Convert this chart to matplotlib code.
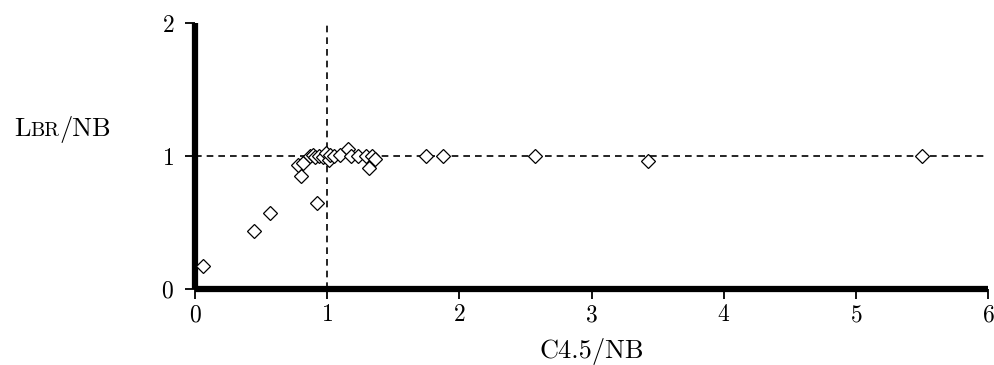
import numpy as np
import matplotlib
matplotlib.use("Agg")
import matplotlib.pyplot as plt
from matplotlib.offsetbox import TextArea, HPacker, AnnotationBbox

plt.rcParams["font.family"] = "serif"
plt.rcParams["font.serif"] = ["cmr10", "DejaVu Serif"]
plt.rcParams["mathtext.fontset"] = "cm"
plt.rcParams["axes.formatter.use_mathtext"] = True

# C4.5/NB (x) against LBR/NB (y)
c45_nb = [0.06, 0.45, 0.57, 0.92, 0.80, 0.78, 0.82,
          0.87, 0.89, 0.91, 0.94, 0.97, 0.99, 1.01, 1.02, 1.05, 1.10,
          1.16, 1.18, 1.23, 1.29, 1.32, 1.34, 1.36,
          1.75, 1.88, 2.57, 3.43, 5.50]
lbr_nb = [0.17, 0.44, 0.57, 0.65, 0.85, 0.93, 0.95,
          1.00, 1.01, 0.99, 1.00, 0.99, 1.02, 0.97, 1.01, 1.00, 1.01,
          1.05, 1.00, 1.00, 1.00, 0.91, 1.00, 0.98,
          1.00, 1.00, 1.00, 0.96, 1.00]

x_ticks = [0, 1, 2, 3, 4, 5, 6]
y_ticks = [0, 1, 2]

fig = plt.figure(figsize=(9.95, 3.65), dpi=100)
ax = fig.add_axes([0.196, 0.208, 0.797, 0.729])

ax.axhline(1, color="black", linestyle=(0, (4, 3)), linewidth=1.2, zorder=1)
ax.axvline(1, color="black", linestyle=(0, (4, 3)), linewidth=1.2, zorder=1)

ax.plot(c45_nb, lbr_nb, linestyle="None", marker="D", markersize=7.2,
        markerfacecolor="white", markeredgecolor="black", markeredgewidth=0.9,
        zorder=3, clip_on=False)

ax.set_xlim(0, 6)
ax.set_ylim(0, 2)
ax.set_xticks(x_ticks)
ax.set_yticks(y_ticks)

for side in ["top", "right"]:
    ax.spines[side].set_visible(False)
for side in ["left", "bottom"]:
    ax.spines[side].set_linewidth(4.5)
    ax.spines[side].set_capstyle("butt")

ax.tick_params(direction="out", length=7, width=1.3, labelsize=17)
ax.tick_params(axis="x", pad=4)
ax.tick_params(axis="y", pad=8)

ax.set_xlabel("C4.5/NB", fontsize=19, labelpad=8)

# small-caps style "LBR/NB" label
parts = [TextArea("L", textprops=dict(fontsize=19, family="serif")),
         TextArea("BR", textprops=dict(fontsize=14.5, family="serif")),
         TextArea("/NB", textprops=dict(fontsize=19, family="serif"))]
box = HPacker(children=parts, align="baseline", pad=0, sep=0)
ab = AnnotationBbox(box, (0.063, 0.645), xycoords="figure fraction",
                    frameon=False, box_alignment=(0.5, 0.5))
fig.add_artist(ab)

fig.savefig("out.png", dpi=100)
